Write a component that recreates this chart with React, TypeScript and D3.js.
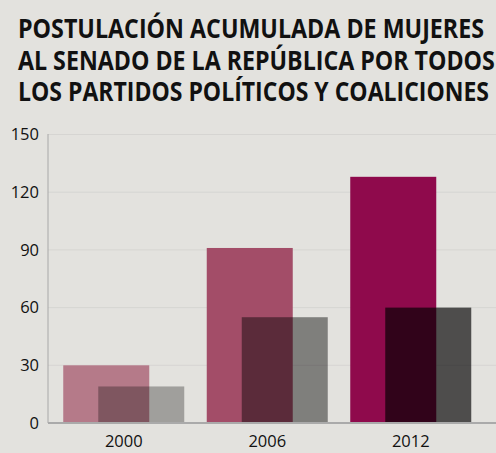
import React, { useEffect, useRef, useState } from "react";
import * as d3 from "d3";

const W = 496;
const H = 453;

const titleLines = [
  "POSTULACIÓN ACUMULADA DE MUJERES",
  "AL SENADO DE LA REPÚBLICA POR TODOS",
  "LOS PARTIDOS POLÍTICOS Y COALICIONES",
];
const years = ["2000", "2006", "2012"];
const seriesA = [30, 91, 128];
const seriesB = [19, 55, 60];
const yTicks = [0, 30, 60, 90, 120, 150];
const colorsA = ["#b57a89", "#a34d68", "#8f0a4c"];
const opacityB = [0.295, 0.44, 0.66];
const titleLens = [466, 477, 471];

function TitleLine({ text, i }: { text: string; i: number }) {
  const ref = useRef<SVGTextElement>(null);
  const [sx, setSx] = useState(0.86);
  useEffect(() => {
    if (ref.current) {
      const w = ref.current.getComputedTextLength();
      if (w > 0) setSx(titleLens[i] / w);
    }
  }, [text, i]);
  return (
    <text
      ref={ref}
      transform={`translate(18,${38 + i * 31.5}) scale(${sx},1)`}
      fontSize={27}
      fontWeight={700}
      fill="#111"
    >
      {text}
    </text>
  );
}

export default function App() {
  const y = d3.scaleLinear().domain([0, 150]).range([423, 134.5]);
  const x = d3.scaleBand().domain(years).range([52, 482.5]).paddingInner(0).paddingOuter(0);
  const barW = 86;
  const shift = 35;
  const groupW = barW + shift;
  return (
    <svg
      width={W}
      height={H}
      style={{ position: "absolute", left: 0, top: 0, display: "block" }}
      fontFamily="'Open Sans', 'Noto Sans', sans-serif"
    >
      <rect x={0} y={0} width={W} height={H} fill="#e3e2de" />
      {titleLines.map((t, i) => (
        <TitleLine key={i} text={t} i={i} />
      ))}
      {yTicks.filter((v) => v > 0).map((v) => (
        <line key={v} x1={48} x2={W} y1={y(v)} y2={y(v)} stroke="#d6d5d2" strokeWidth={1} />
      ))}
      {years.map((yr, i) => {
        const cx = (x(yr) as number) + x.bandwidth() / 2;
        const x0 = cx - groupW / 2;
        return (
          <g key={yr}>
            <rect x={x0} y={y(seriesA[i])} width={barW} height={y(0) - y(seriesA[i])} fill={colorsA[i]} />
            <rect
              x={x0 + shift}
              y={y(seriesB[i])}
              width={barW}
              height={y(0) - y(seriesB[i])}
              fill="#000"
              fillOpacity={opacityB[i]}
            />
            <text x={cx} y={447} fontSize={16.5} textAnchor="middle" fill="#111">
              {yr}
            </text>
          </g>
        );
      })}
      <line x1={48} x2={48} y1={134} y2={423} stroke="#a8a8a8" strokeWidth={1} />
      <line x1={48} x2={W} y1={423} y2={423} stroke="#aaaaaa" strokeWidth={2} />
      {yTicks.map((v) => (
        <text key={v} x={39} y={y(v)} dy="0.35em" fontSize={16.5} textAnchor="end" fill="#111">
          {v}
        </text>
      ))}
    </svg>
  );
}
